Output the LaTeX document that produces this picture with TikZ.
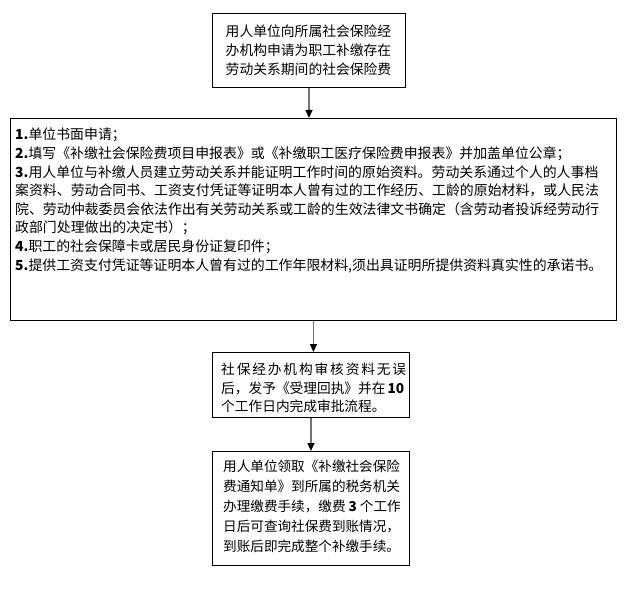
\documentclass[tikz,border=0pt]{standalone}
\usepackage{fontspec}
\setmainfont{Noto Sans CJK SC}
\usetikzlibrary{arrows.meta}
\tikzset{
  boxshape/.style={draw=black, line width=0.9pt, inner sep=0pt, anchor=north west},
  txt/.style={inner sep=0pt, font=\fontsize{13.9}{18.6}\selectfont},
  conn/.style={draw=black!55, line width=1.2pt, -{Triangle[length=8pt,width=7pt,fill=black,color=black]}}
}
\begin{document}
\begin{tikzpicture}[x=1pt,y=-1pt]
\useasboundingbox[fill=white] (0,0) rectangle (625,594);
% boxes
\node[boxshape, minimum width=193pt, minimum height=74pt] (b1) at (212,13) {};
\node[boxshape, minimum width=606pt, minimum height=202pt] (b2) at (10,118) {};
\node[boxshape, minimum width=197pt, minimum height=65pt] (b3) at (212,352) {};
\node[boxshape, minimum width=197pt, minimum height=114pt] (b4) at (212,451) {};
% texts
\node[txt, align=center, anchor=north, font=\fontsize{13.8}{19}\selectfont] (t1) at (308.5,25) {用人单位向所属社会保险经\\办机构申请为职工补缴存在\\劳动关系期间的社会保险费};
\node[txt, align=left, anchor=north west] (t2) at (15,128) {%
\textbf{1.}单位书面申请；\\
\textbf{2.}填写《补缴社会保险费项目申报表》或《补缴职工医疗保险费申报表》并加盖单位公章；\\
\textbf{3.}用人单位与补缴人员建立劳动关系并能证明工作时间的原始资料。劳动关系通过个人的人事档\\
案资料、劳动合同书、工资支付凭证等证明本人曾有过的工作经历、工龄的原始材料，或人民法\\
院、劳动仲裁委员会依法作出有关劳动关系或工龄的生效法律文书确定（含劳动者投诉经劳动行\\
政部门处理做出的决定书）；\\
\textbf{4.}职工的社会保障卡或居民身份证复印件；\\
\textbf{5.}提供工资支付凭证等证明本人曾有过的工作年限材料,须出具证明所提供资料真实性的承诺书。};
\node[txt, align=left, anchor=north west, font=\fontsize{13.7}{18.5}\selectfont] (t3) at (221,363) {%
\makebox[185pt][s]{社\hfill 保\hfill 经\hfill 办\hfill 机\hfill 构\hfill 审\hfill 核\hfill 资\hfill 料\hfill 无\hfill 误}\\
\makebox[181pt][s]{后，发予《受理回执》\hfill 并在\hfill\ \textbf{10}}\\
个工作日内完成审批流程。};
\node[txt, align=left, anchor=north west, font=\fontsize{13.6}{20}\selectfont] (t4) at (223,460) {%
用人单位领取《补缴社会保险\\
费通知单》到所属的税务机关\\
办理缴费手续，缴费 \textbf{3} 个工作\\
日后可查询社保费到账情况，\\
到账后即完成整个补缴手续。};
% connectors
\draw[conn] (b1.south) -- (b1.south |- b2.north);
\draw[conn] (b2.south) -- (b2.south |- b3.north);
\draw[conn] (b3.south) -- (b3.south |- b4.north);
\end{tikzpicture}
\end{document}
